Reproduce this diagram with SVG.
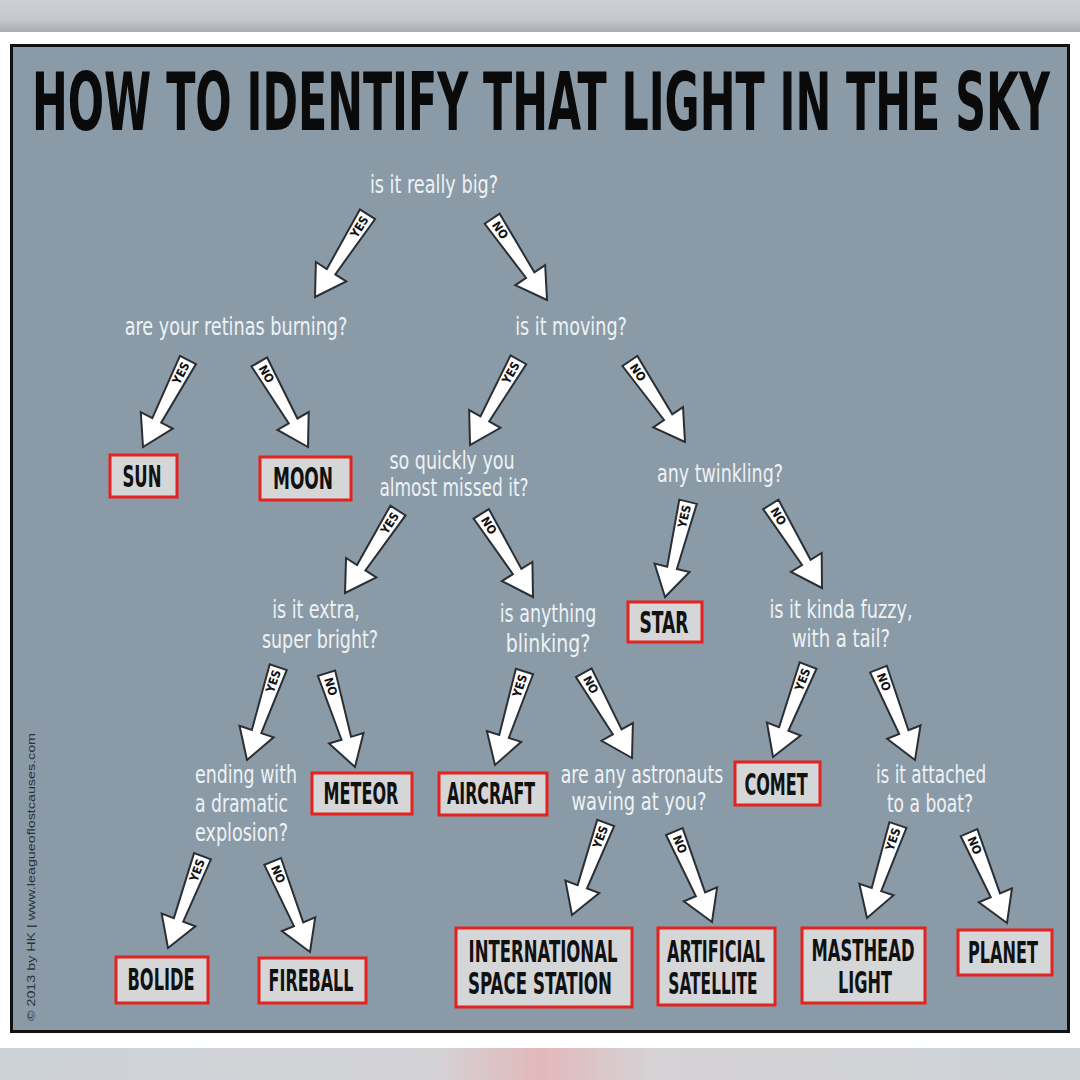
<svg xmlns="http://www.w3.org/2000/svg" xmlns:xlink="http://www.w3.org/1999/xlink" width="1080" height="1080" viewBox="0 0 1080 1080">
<defs>
<style>
.q{font-family:"DejaVu Sans Condensed","Liberation Sans Narrow","Liberation Sans",sans-serif;font-size:25px;fill:#eef2f5;text-anchor:middle}
.ql{text-anchor:start}
.b{font-family:"DejaVu Sans Condensed","Liberation Sans Narrow","Liberation Sans",sans-serif;font-weight:bold;font-size:30px;fill:#111;text-anchor:middle}
.box{fill:#d5d6d7;stroke:#e2231f;stroke-width:3}
.arw{fill:#ffffff;stroke:#2b2f33;stroke-width:2;stroke-linejoin:miter}
.al{font-family:"DejaVu Sans Condensed","Liberation Sans Narrow","Liberation Sans",sans-serif;font-weight:bold;font-size:12px;fill:#111;text-anchor:middle;dominant-baseline:central}
</style>
<linearGradient id="topband" x1="0" y1="0" x2="0" y2="1">
<stop offset="0" stop-color="#cdd1d5"/><stop offset="0.6" stop-color="#c4c8cc"/><stop offset="1" stop-color="#a9adb1"/>
</linearGradient>
<linearGradient id="botband" x1="0" y1="0" x2="1" y2="0">
<stop offset="0" stop-color="#cdd2d7"/><stop offset="0.4" stop-color="#d3d3d6"/><stop offset="0.5" stop-color="#e2b8bb"/><stop offset="0.6" stop-color="#d6d2d5"/><stop offset="1" stop-color="#ccd2d7"/>
</linearGradient>
<path id="ashape" d="M0,0 L-18,-30 L-5,-30 L-9,-98 L9,-98 L5,-30 L18,-30 Z"/>
<g id="ay"><use xlink:href="#ashape" class="arw"/><text class="al" transform="translate(0,-83) rotate(-90)">YES</text></g>
<g id="an"><use xlink:href="#ashape" class="arw"/><text class="al" transform="translate(0,-84) rotate(90)">NO</text></g>
</defs>

<rect x="0" y="0" width="1080" height="1080" fill="#ffffff"/>
<rect x="0" y="0" width="1080" height="32" fill="url(#topband)"/>
<rect x="0" y="1048" width="1080" height="32" fill="url(#botband)"/>
<rect x="11.5" y="45.5" width="1057" height="986" fill="#8a9ba7" stroke="#111" stroke-width="3"/>

<text transform="translate(541,130) scale(0.55,1)" font-family="DejaVu Sans Condensed,Liberation Sans Narrow,Liberation Sans,sans-serif" font-weight="bold" font-size="80" fill="#0a0a0a" text-anchor="middle" textLength="1851" lengthAdjust="spacingAndGlyphs">HOW TO IDENTIFY THAT LIGHT IN THE SKY</text>

<text transform="translate(31,877) rotate(-90)" font-family="Liberation Sans,DejaVu Sans,sans-serif" font-size="11" fill="#2b3035" text-anchor="middle" dominant-baseline="central" textLength="288" lengthAdjust="spacingAndGlyphs">© 2013 by HK | www.leagueoflostcauses.com</text>

<g id="connectors">
<use xlink:href="#ay" transform="translate(315,297) rotate(32.4)"/>
<use xlink:href="#an" transform="translate(547,300) rotate(-34)"/>
<use xlink:href="#ay" transform="translate(143,447) rotate(27.3)"/>
<use xlink:href="#an" transform="translate(308,447) rotate(-29.8)"/>
<use xlink:href="#ay" transform="translate(470,445) rotate(29.6)"/>
<use xlink:href="#an" transform="translate(685,442) rotate(-34.2)"/>
<use xlink:href="#ay" transform="translate(345,593) rotate(32.7)"/>
<use xlink:href="#an" transform="translate(533,597) rotate(-31.9)"/>
<use xlink:href="#ay" transform="translate(665,597) rotate(13.6)"/>
<use xlink:href="#an" transform="translate(822,588) rotate(-31.5)"/>
<use xlink:href="#ay" transform="translate(247,760) rotate(18.6)"/>
<use xlink:href="#an" transform="translate(355,767) rotate(-16.9)"/>
<use xlink:href="#ay" transform="translate(495,765) rotate(17.5)"/>
<use xlink:href="#an" transform="translate(632,758) rotate(-29.5)"/>
<use xlink:href="#ay" transform="translate(773,757) rotate(21)"/>
<use xlink:href="#an" transform="translate(915,760) rotate(-21.9)"/>
<use xlink:href="#ay" transform="translate(168,948) rotate(20.6)"/>
<use xlink:href="#an" transform="translate(310,952) rotate(-22.4)"/>
<use xlink:href="#ay" transform="translate(572,915) rotate(20.1)"/>
<use xlink:href="#an" transform="translate(712,922) rotate(-22.6)"/>
<use xlink:href="#ay" transform="translate(867,918) rotate(18.4)"/>
<use xlink:href="#an" transform="translate(1007,923) rotate(-22.8)"/>
</g>

<g id="q-big"><text class="q" transform="translate(434,193) scale(0.75,1)" textLength="171" lengthAdjust="spacingAndGlyphs">is it really big?</text></g>
<g id="q-retinas"><text class="q" transform="translate(236,335) scale(0.75,1)" textLength="297" lengthAdjust="spacingAndGlyphs">are your retinas burning?</text></g>
<g id="q-moving"><text class="q" transform="translate(571,335) scale(0.75,1)" textLength="149" lengthAdjust="spacingAndGlyphs">is it moving?</text></g>
<g id="q-quickly"><text class="q" transform="translate(452,469) scale(0.75,1)" textLength="167" lengthAdjust="spacingAndGlyphs">so quickly you</text><text class="q" transform="translate(454,496) scale(0.75,1)" textLength="199" lengthAdjust="spacingAndGlyphs">almost missed it?</text></g>
<g id="q-twinkling"><text class="q" transform="translate(720,482) scale(0.75,1)" textLength="168" lengthAdjust="spacingAndGlyphs">any twinkling?</text></g>
<g id="q-bright"><text class="q" transform="translate(316,618) scale(0.75,1)" textLength="117" lengthAdjust="spacingAndGlyphs">is it extra,</text><text class="q" transform="translate(320,648) scale(0.75,1)" textLength="155" lengthAdjust="spacingAndGlyphs">super bright?</text></g>
<g id="q-blinking"><text class="q" transform="translate(548,622) scale(0.75,1)" textLength="129" lengthAdjust="spacingAndGlyphs">is anything</text><text class="q" transform="translate(548,652) scale(0.75,1)" textLength="113" lengthAdjust="spacingAndGlyphs">blinking?</text></g>
<g id="q-fuzzy"><text class="q" transform="translate(841,618) scale(0.75,1)" textLength="191" lengthAdjust="spacingAndGlyphs">is it kinda fuzzy,</text><text class="q" transform="translate(841,647) scale(0.75,1)" textLength="131" lengthAdjust="spacingAndGlyphs">with a tail?</text></g>
<g id="q-explosion"><text class="q ql" transform="translate(195,783) scale(0.75,1)" textLength="136" lengthAdjust="spacingAndGlyphs">ending with</text><text class="q ql" transform="translate(195,812) scale(0.75,1)" textLength="124" lengthAdjust="spacingAndGlyphs">a dramatic</text><text class="q ql" transform="translate(195,841) scale(0.75,1)" textLength="124" lengthAdjust="spacingAndGlyphs">explosion?</text></g>
<g id="q-astronauts"><text class="q" transform="translate(642,783) scale(0.75,1)" textLength="217" lengthAdjust="spacingAndGlyphs">are any astronauts</text><text class="q" transform="translate(639,810) scale(0.75,1)" textLength="180" lengthAdjust="spacingAndGlyphs">waving at you?</text></g>
<g id="q-boat"><text class="q" transform="translate(931,783) scale(0.75,1)" textLength="147" lengthAdjust="spacingAndGlyphs">is it attached</text><text class="q" transform="translate(930,812) scale(0.75,1)" textLength="115" lengthAdjust="spacingAndGlyphs">to a boat?</text></g>

<g id="a-sun"><rect class="box" x="110" y="455" width="67" height="42"/><text class="b" transform="translate(142,487) scale(0.62,1)" textLength="63" lengthAdjust="spacingAndGlyphs">SUN</text></g>
<g id="a-moon"><rect class="box" x="260" y="457" width="91" height="43"/><text class="b" transform="translate(303,489) scale(0.62,1)" textLength="97" lengthAdjust="spacingAndGlyphs">MOON</text></g>
<g id="a-star"><rect class="box" x="628" y="602" width="74" height="40"/><text class="b" transform="translate(664,633) scale(0.62,1)" textLength="79" lengthAdjust="spacingAndGlyphs">STAR</text></g>
<g id="a-meteor"><rect class="box" x="312" y="773" width="100" height="41"/><text class="b" transform="translate(361,804) scale(0.62,1)" textLength="121" lengthAdjust="spacingAndGlyphs">METEOR</text></g>
<g id="a-aircraft"><rect class="box" x="439" y="773" width="108" height="42"/><text class="b" transform="translate(491,804) scale(0.62,1)" textLength="142" lengthAdjust="spacingAndGlyphs">AIRCRAFT</text></g>
<g id="a-comet"><rect class="box" x="735" y="762" width="85" height="43"/><text class="b" transform="translate(776,795) scale(0.62,1)" textLength="102" lengthAdjust="spacingAndGlyphs">COMET</text></g>
<g id="a-bolide"><rect class="box" x="116" y="957" width="92" height="46"/><text class="b" transform="translate(161,990) scale(0.62,1)" textLength="108" lengthAdjust="spacingAndGlyphs">BOLIDE</text></g>
<g id="a-fireball"><rect class="box" x="259" y="958" width="107" height="45"/><text class="b" transform="translate(311,991) scale(0.62,1)" textLength="137" lengthAdjust="spacingAndGlyphs">FIREBALL</text></g>
<g id="a-iss"><rect class="box" x="456" y="928" width="176" height="79"/><text class="b" transform="translate(543,962) scale(0.62,1)" textLength="240" lengthAdjust="spacingAndGlyphs">INTERNATIONAL</text><text class="b" transform="translate(540,994) scale(0.62,1)" textLength="232" lengthAdjust="spacingAndGlyphs">SPACE STATION</text></g>
<g id="a-satellite"><rect class="box" x="658" y="928" width="117" height="77"/><text class="b" transform="translate(716,962) scale(0.62,1)" textLength="158" lengthAdjust="spacingAndGlyphs">ARTIFICIAL</text><text class="b" transform="translate(713,994) scale(0.62,1)" textLength="144" lengthAdjust="spacingAndGlyphs">SATELLITE</text></g>
<g id="a-masthead"><rect class="box" x="802" y="928" width="123" height="75"/><text class="b" transform="translate(863,961) scale(0.62,1)" textLength="166" lengthAdjust="spacingAndGlyphs">MASTHEAD</text><text class="b" transform="translate(865,993) scale(0.62,1)" textLength="87" lengthAdjust="spacingAndGlyphs">LIGHT</text></g>
<g id="a-planet"><rect class="box" x="958" y="930" width="94" height="45"/><text class="b" transform="translate(1003,963) scale(0.62,1)" textLength="113" lengthAdjust="spacingAndGlyphs">PLANET</text></g>
</svg>
